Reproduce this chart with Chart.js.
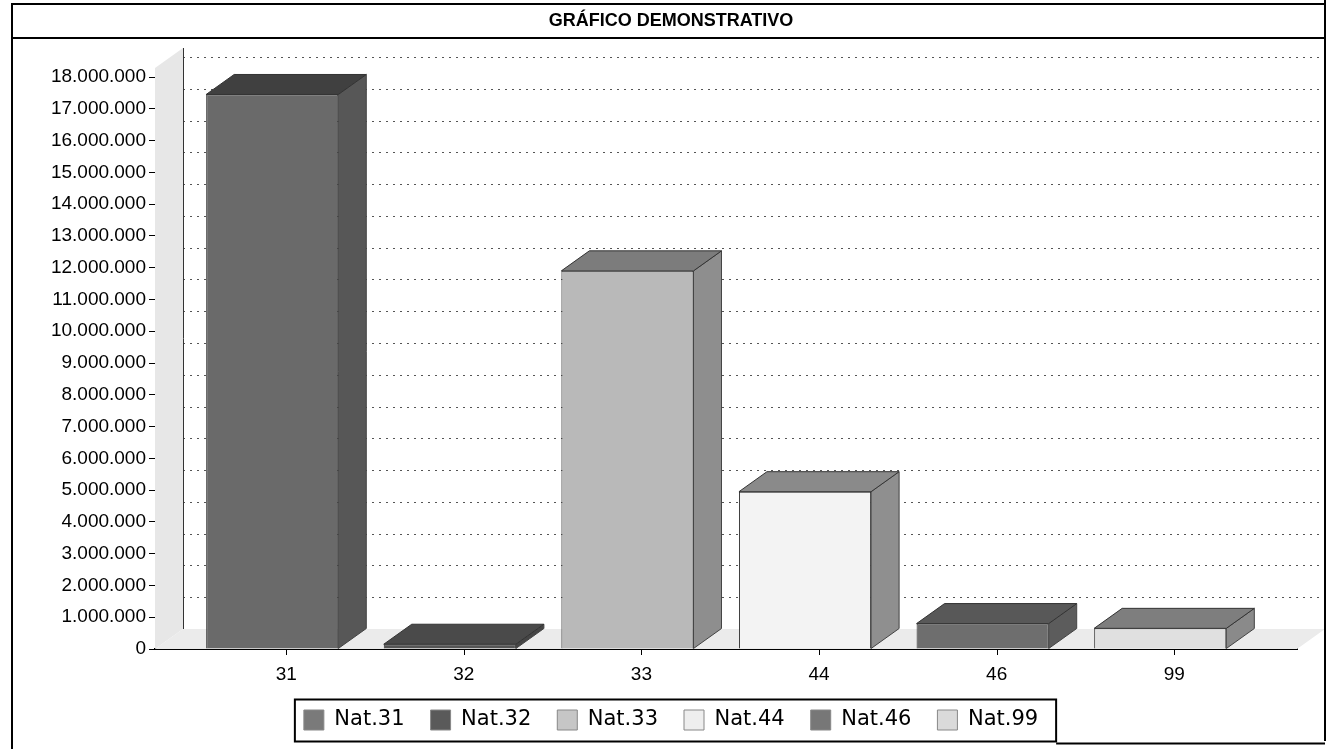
<!DOCTYPE html>
<html>
<head>
<meta charset="utf-8">
<script src="https://cdn.jsdelivr.net/npm/chart.js@4.4.0/dist/chart.umd.min.js"></script>
<style>
  html, body { margin: 0; padding: 0; background: #fff; }
</style>
</head>
<body>
<canvas id="my-bar-Chart" width="1332" height="749"></canvas>
<script>
// values
const categories = ["31", "32", "33", "44", "46", "99"];
const legendLabels = ["Nat.31", "Nat.32", "Nat.33", "Nat.44", "Nat.46", "Nat.99"];
const values = [17450000, 150000, 11900000, 4950000, 800000, 650000];
const yMax = 18000000;
const yStep = 1000000;

// greys of the scan (front / top / side of each box)
const frontColors = ["#6a6a6a", "#555555", "#b9b9b9", "#f3f3f3", "#6e6e6e", "#e0e0e0"];
const topColors = ["#404040", "#4a4a4a", "#7c7c7c", "#8a8a8a", "#585858", "#7e7e7e"];
const sideColors = ["#575757", "#454545", "#8e8e8e", "#8f8f8f", "#5c5c5c", "#8a8a8a"];
const legendColors = ["#7a7a7a", "#5a5a5a", "#c6c6c6", "#eeeeee", "#777777", "#dadada"];

const depthX = 28;
const depthY = 20;

const fmt = (v) => String(v).replace(/\B(?=(\d{3})+(?!\d))/g, ".");

const poly = (ctx, pts, fill, stroke) => {
  ctx.beginPath();
  ctx.moveTo(pts[0][0], pts[0][1]);
  for (let k = 1; k < pts.length; k++) ctx.lineTo(pts[k][0], pts[k][1]);
  ctx.closePath();
  ctx.fillStyle = fill;
  ctx.fill();
  if (stroke) {
    ctx.strokeStyle = stroke;
    ctx.lineWidth = 1;
    ctx.stroke();
  }
};

const box3d = {
  id: "box3d",
  beforeDatasetsDraw(chart) {
    const { ctx, chartArea: a, scales: { y } } = chart;
    const top = y.getPixelForValue(yMax) - 9;
    ctx.save();
    // left wall
    poly(ctx, [[a.left, top], [a.left + depthX, top - depthY], [a.left + depthX, a.bottom - depthY], [a.left, a.bottom]], "#e7e7e7");
    // floor
    poly(ctx, [[a.left, a.bottom], [a.left + depthX, a.bottom - depthY], [a.right + depthX, a.bottom - depthY], [a.right, a.bottom]], "#ebebeb");
    // dotted grid on the back wall
    ctx.setLineDash([2, 5]);
    ctx.strokeStyle = "#555";
    ctx.lineWidth = 1;
    y.ticks.forEach((t) => {
      if (t.value === 0) return;
      const py = Math.round(y.getPixelForValue(t.value) - depthY) + 0.5;
      ctx.beginPath();
      ctx.moveTo(a.left + depthX, py);
      ctx.lineTo(a.right + depthX + 4, py);
      ctx.stroke();
    });
    ctx.setLineDash([]);
    ctx.strokeStyle = "#333";
    ctx.beginPath();
    ctx.moveTo(a.left + depthX + 0.5, top - depthY);
    ctx.lineTo(a.left + depthX + 0.5, a.bottom - depthY);
    ctx.stroke();
    ctx.restore();
  },
  afterDatasetsDraw(chart) {
    const { ctx } = chart;
    const meta = chart.getDatasetMeta(0);
    ctx.save();
    meta.data.forEach((bar, i) => {
      const { x, y, width, base } = bar.getProps(["x", "y", "width", "base"], true);
      const l = x - width / 2;
      const r = x + width / 2;
      poly(ctx, [[r, y], [r + depthX, y - depthY], [r + depthX, base - depthY], [r, base]], sideColors[i], "#444");
      poly(ctx, [[l, y], [l + depthX, y - depthY], [r + depthX, y - depthY], [r, y]], topColors[i], "#333");
    });
    ctx.restore();
  },
  afterDraw(chart) {
    const { ctx, chartArea: a } = chart;
    const meta = chart.getDatasetMeta(0);
    ctx.save();
    ctx.strokeStyle = "#000";
    // tick marks under the category labels
    ctx.lineWidth = 1;
    meta.data.forEach((bar) => {
      const px = Math.round(bar.x + depthX / 2) + 0.5;
      ctx.beginPath();
      ctx.moveTo(px, a.bottom);
      ctx.lineTo(px, a.bottom + 6);
      ctx.stroke();
    });
    // outer frame and title band
    ctx.lineWidth = 2;
    ctx.beginPath();
    ctx.moveTo(12, 4); ctx.lineTo(1325, 4);
    ctx.moveTo(12, 38); ctx.lineTo(1325, 38);
    ctx.moveTo(12, 3); ctx.lineTo(12, 749);
    ctx.moveTo(1325, 0); ctx.lineTo(1325, 741);
    ctx.stroke();
    // box round the legend
    const hb = chart.legend.legendHitBoxes;
    if (hb && hb.length) {
      const last = hb[hb.length - 1];
      const bl = hb[0].left - 9;
      const br = last.left + last.width + 18;
      const bt = hb[0].top - 10;
      const bb = hb[0].top + hb[0].height + 11;
      ctx.strokeRect(bl, bt, br - bl, bb - bt);
      ctx.beginPath();
      ctx.moveTo(br, bb + 2); ctx.lineTo(1325, bb + 2);
      ctx.stroke();
    }
    ctx.restore();
  },
};

Chart.defaults.font.family = "'Liberation Sans', Arial, sans-serif";
Chart.defaults.color = "#000";

new Chart(document.querySelector("#my-bar-Chart"), {
  type: "bar",
  data: {
    datasets: [
      {
        label: "GRÁFICO DEMONSTRATIVO",
        data: categories.map((c, i) => ({ x: i, y: values[i] })),
        backgroundColor: frontColors,
        borderColor: "#333",
        borderWidth: 1,
        barPercentage: 0.93,
        categoryPercentage: 0.8,
      },
    ],
  },
  plugins: [box3d],
  options: {
    responsive: false,
    animation: false,
    layout: { padding: { left: 45, right: 35, top: 0, bottom: 8.5 } },
    plugins: {
      title: {
        display: true,
        text: "GRÁFICO DEMONSTRATIVO",
        font: { size: 18, weight: "bold" },
        color: "#000",
        padding: { top: 10.2, bottom: 45.2 },
      },
      legend: {
        display: true,
        position: "bottom",
        labels: {
          font: { family: "'DejaVu Sans', Verdana, sans-serif", size: 21 },
          boxWidth: 20,
          boxHeight: 20,
          padding: 26,
          color: "#000",
          generateLabels: () =>
            legendLabels.map((t, i) => ({
              text: t,
              fillStyle: legendColors[i],
              strokeStyle: "#888",
              lineWidth: 1,
              hidden: false,
              index: i,
            })),
        },
      },
      tooltip: { enabled: false },
    },
    scales: {
      x: {
        type: "linear",
        bounds: "data",
        offset: false,
        min: -0.66,
        max: 5.77,
        // one tick per category
        afterBuildTicks: (s) => {
          s.ticks = categories.map((c, i) => ({ value: i }));
        },
        afterFit: (s) => {
          s.height = 34.5;
        },
        ticks: {
          autoSkip: false,
          maxRotation: 0,
          labelOffset: depthX / 2,
          padding: 14,
          font: { size: 19 },
          callback: (v) => categories[v],
        },
        grid: { display: false, drawTicks: false, offset: false },
        border: { display: true, color: "#000", width: 2 },
      },
      y: {
        min: 0,
        max: yMax,
        afterFit: (s) => {
          s.width = 110;
        },
        ticks: {
          stepSize: yStep,
          autoSkip: false,
          padding: 3,
          font: { size: 19 },
          callback: (v) => fmt(v),
        },
        grid: { display: true, drawOnChartArea: false, drawTicks: true, tickLength: 6, color: "#000" },
        border: { display: true, color: "#000", width: 1 },
      },
    },
  },
});
</script>
</body>
</html>
